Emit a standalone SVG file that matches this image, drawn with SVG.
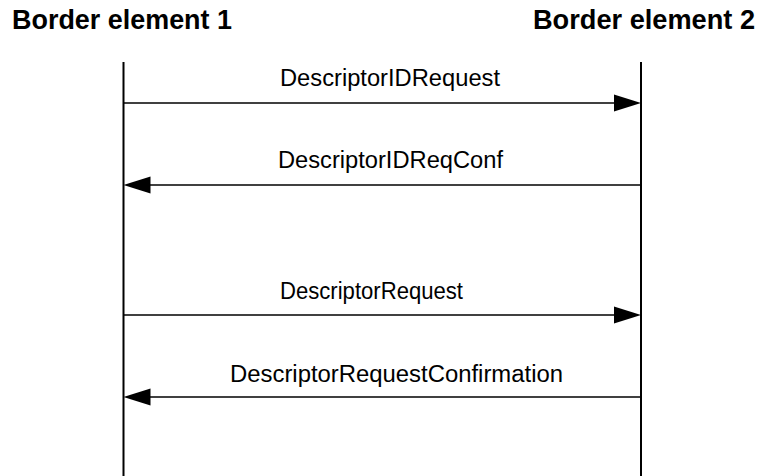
<svg xmlns="http://www.w3.org/2000/svg" width="760" height="476" viewBox="0 0 760 476">
<style>
.title{font-family:"Liberation Sans",Arial,sans-serif;font-weight:bold;font-size:27px;fill:#000}
.lbl{font-family:"Liberation Sans",Arial,sans-serif;font-size:23px;fill:#000;text-anchor:start}
.life{stroke:#000;stroke-width:2;fill:none}
.msg{stroke:#000;stroke-width:1.7;fill:none}
.head{fill:#000;stroke:none}
</style>
<rect width="760" height="476" fill="#fff"/>
<g id="be1">
<text class="title" x="12" y="29" textLength="220" lengthAdjust="spacingAndGlyphs">Border element 1</text>
<line class="life" x1="123.5" y1="62" x2="123.5" y2="476"/>
</g>
<g id="be2">
<text class="title" x="533" y="29" textLength="222" lengthAdjust="spacingAndGlyphs">Border element 2</text>
<line class="life" x1="641" y1="62" x2="641" y2="476"/>
</g>
<g id="connectors">
<g id="m1">
<line class="msg" x1="123.5" y1="103" x2="616" y2="103"/>
<polygon class="head" points="641,103 614,94.5 614,111.5"/>
<text class="lbl" x="280" y="86" textLength="220" lengthAdjust="spacingAndGlyphs">DescriptorIDRequest</text>
</g>
<g id="m2">
<line class="msg" x1="148" y1="185" x2="641" y2="185"/>
<polygon class="head" points="123.5,185 150.5,176.5 150.5,193.5"/>
<text class="lbl" x="278" y="168" textLength="225" lengthAdjust="spacingAndGlyphs">DescriptorIDReqConf</text>
</g>
<g id="m3">
<line class="msg" x1="123.5" y1="315" x2="616" y2="315"/>
<polygon class="head" points="641,315 614,306.5 614,323.5"/>
<text class="lbl" x="280" y="299" textLength="183" lengthAdjust="spacingAndGlyphs">DescriptorRequest</text>
</g>
<g id="m4">
<line class="msg" x1="148" y1="397" x2="641" y2="397"/>
<polygon class="head" points="123.5,397 150.5,388.5 150.5,405.5"/>
<text class="lbl" x="230" y="382" textLength="333" lengthAdjust="spacingAndGlyphs">DescriptorRequestConfirmation</text>
</g>
</g>
</svg>
